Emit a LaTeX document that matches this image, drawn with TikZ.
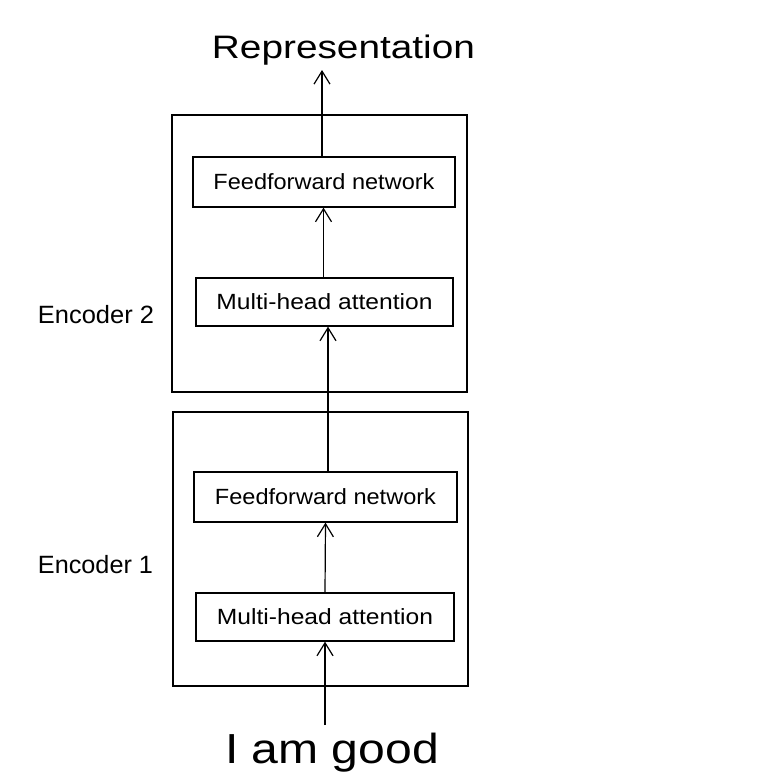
\documentclass[tikz,border=0pt]{standalone}
\usepackage{fontspec}
\setmainfont{Liberation Sans}
\usetikzlibrary{arrows.meta}
\tikzset{
  encbox/.style={draw=black, line width=1.4pt, minimum width=295pt, inner sep=0pt},
  layerbox/.style={draw=black, line width=1.3pt, inner sep=0pt, font=\fontsize{22}{26}\selectfont},
  lbl/.style={inner sep=0pt, anchor=base},
  arr/.style={line width=1.2pt, -{Straight Barb[length=13pt,width=16pt]}},
}
\begin{document}
\begin{tikzpicture}[x=1pt,y=-1pt]
\useasboundingbox[fill=white] (0,0) rectangle (784,782);
% encoder boxes
\node[encbox, minimum height=277pt] (enc2) at (319.5,253.5) {};
\node[encbox, minimum height=274pt] (enc1) at (320.5,549) {};
% layers
\node[layerbox, minimum width=262pt, minimum height=50pt] (ff2) at (324,182) {\resizebox{221pt}{\height}{Feedforward network}};
\node[layerbox, minimum width=257pt, minimum height=48pt] (mha2) at (324.5,302) {\resizebox{216pt}{\height}{Multi-head attention}};
\node[layerbox, minimum width=263pt, minimum height=50pt] (ff1) at (325.5,497) {\resizebox{221pt}{\height}{Feedforward network}};
\node[layerbox, minimum width=258pt, minimum height=48pt] (mha1) at (325,617) {\resizebox{216pt}{\height}{Multi-head attention}};
% labels
\node[lbl, font=\fontsize{32.5}{36}\selectfont] (rep) at (343.5,58.3) {\resizebox{263pt}{\height}{Representation}};
\node[lbl, font=\fontsize{42}{46}\selectfont] (inp) at (332,763) {\resizebox{214pt}{\height}{I am good}};
\node[lbl, font=\fontsize{25}{29}\selectfont] (e2) at (96,323) {\resizebox{116pt}{\height}{Encoder 2}};
\node[lbl, font=\fontsize{25}{29}\selectfont] (e1) at (95.5,573) {\resizebox{115pt}{\height}{Encoder 1}};
% helper coordinates
\coordinate (inbot) at (325,725);
\coordinate (reptop) at (322,70);
% connectors
\draw[arr] (inbot) -- (inbot |- mha1.south);
\draw[arr] (mha1.north) -- (ff1.south);
\draw[arr] ([xshift=2.5pt]ff1.north) -- ([xshift=2.5pt]ff1.north |- mha2.south);
\draw[arr] ([xshift=-1pt]mha2.north) -- ([xshift=-1pt]mha2.north |- ff2.south);
\draw[arr] ([xshift=-2pt]ff2.north) -- (reptop);
\end{tikzpicture}
\end{document}
